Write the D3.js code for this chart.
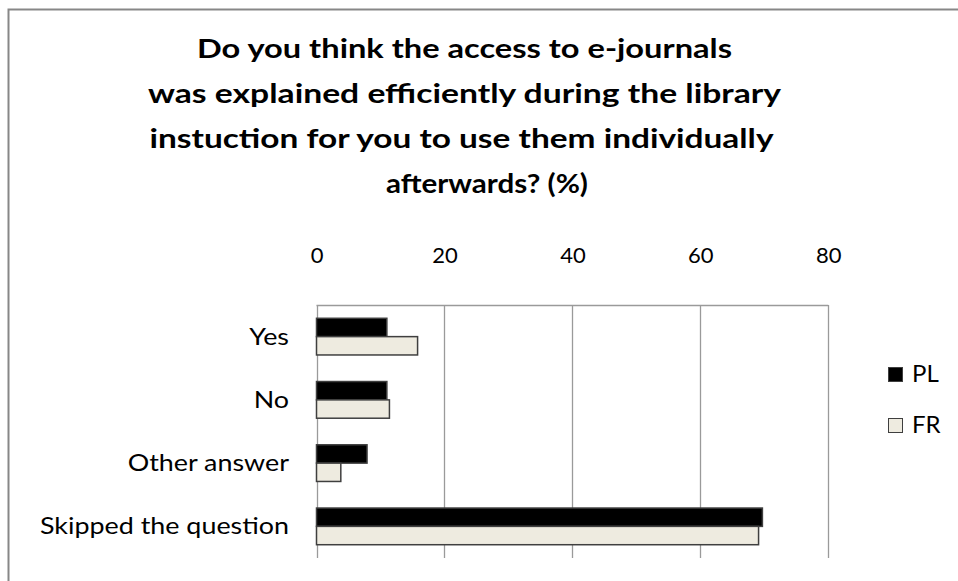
<!DOCTYPE html>
<html>
<head>
<meta charset="utf-8">
<script src="https://cdn.jsdelivr.net/npm/d3@7"></script>
<style>
  html, body { margin: 0; padding: 0; background: #fff; }
  svg { display: block; }
  text { font-family: Lato, "Open Sans", sans-serif; fill: #000; }
</style>
</head>
<body>
<svg id="chart" width="958" height="581"></svg>
<script>
// ---- data ----
const categories = ["Yes", "No", "Other answer", "Skipped the question"];
const seriesNames = ["PL", "FR"];
const valuesPL = [11.0, 11.0, 7.9, 69.7];
const valuesFR = [15.8, 11.4, 3.8, 69.1];
const xTicks = [0, 20, 40, 60, 80];
const titleLines = [
  "Do you think the access to e-journals",
  "was explained efficiently during the library",
  "instuction for you to use them individually",
  "afterwards? (%)"
];

const seriesColors = { PL: "#000000", FR: "#EEEBE0" };
const seriesValues = { PL: valuesPL, FR: valuesFR };

const svg = d3.select("#chart");

// outer chart border
svg.append("rect")
  .attr("x", 8.5).attr("y", 9.5)
  .attr("width", 1000).attr("height", 1000)
  .attr("fill", "none").attr("stroke", "#878787").attr("stroke-width", 2);

// title: each line centred and fitted to the reference line width
const titleCenters = [464.5, 464.5, 461.5, 487];
const titleWidths = [535, 633, 624, 202];
const titleBaselines = [58, 103, 148, 193];
const tg = svg.append("g");
tg.selectAll("text").data(titleLines).join("text")
  .attr("x", (d, i) => titleCenters[i]).attr("y", (d, i) => titleBaselines[i])
  .attr("text-anchor", "middle")
  .attr("font-size", 27).attr("font-weight", "bold")
  .attr("textLength", (d, i) => titleWidths[i])
  .attr("lengthAdjust", "spacingAndGlyphs")
  .text(d => d);

// plot area
const plot = { left: 316.5, right: 828.3, top: 305, bottom: 558 };

const x = d3.scaleLinear().domain([0, 80]).range([plot.left, plot.right]);
const y = d3.scaleBand().domain(categories).range([plot.top, plot.bottom])
  .paddingInner(0.42).paddingOuter(0.21);
const ySub = d3.scaleBand().domain(seriesNames).range([0, y.bandwidth()]).padding(0);

// gridlines
svg.append("g").selectAll("line").data(xTicks).join("line")
  .attr("x1", d => Math.round(x(d)) + 0.5).attr("x2", d => Math.round(x(d)) + 0.5)
  .attr("y1", plot.top).attr("y2", plot.bottom)
  .attr("stroke", "#9a9a9a").attr("stroke-width", 1.3);

// top axis line
svg.append("line")
  .attr("x1", plot.left).attr("x2", plot.right)
  .attr("y1", plot.top + 0.5).attr("y2", plot.top + 0.5)
  .attr("stroke", "#9a9a9a").attr("stroke-width", 1.3);

// axis labels (top)
const xAxis = d3.axisTop(x).tickValues(xTicks).tickSize(0).tickPadding(0).tickFormat(d3.format("d"));
const ax = svg.append("g").attr("transform", `translate(0, 263)`).call(xAxis);
ax.select(".domain").remove();
ax.selectAll("text").attr("font-size", 22).attr("font-family", "Lato, sans-serif").attr("fill", "#000").attr("dy", 0);

// category labels, scaled so the longest matches the reference width
const catText = svg.append("g").selectAll("text").data(categories).join("text")
  .attr("x", 289)
  .attr("y", d => y(d) + y.bandwidth() / 2 + 8)
  .attr("text-anchor", "end")
  .attr("font-size", 23)
  .text(d => d);
const longest = catText.filter(d => d === "Skipped the question").node().getComputedTextLength();
const k = 249 / longest;
catText.each(function() {
  const w = this.getComputedTextLength();
  d3.select(this).attr("textLength", w * k).attr("lengthAdjust", "spacingAndGlyphs");
});

// bars
const groups = svg.append("g").selectAll("g").data(categories).join("g")
  .attr("transform", d => `translate(0, ${y(d)})`);
groups.selectAll("rect")
  .data((d, i) => seriesNames.map(s => ({ s, v: seriesValues[s][i] })))
  .join("rect")
  .attr("x", x(0))
  .attr("y", d => ySub(d.s))
  .attr("width", d => x(d.v) - x(0))
  .attr("height", ySub.bandwidth())
  .attr("fill", d => seriesColors[d.s])
  .attr("stroke", "#3f3f3f").attr("stroke-width", 1.5);

// legend
const legendY = [367, 418];
const leg = svg.append("g");
seriesNames.forEach((s, i) => {
  leg.append("rect")
    .attr("x", 888.5).attr("y", legendY[i] + 0.5)
    .attr("width", 14).attr("height", 14)
    .attr("fill", seriesColors[s]).attr("stroke", "#3f3f3f").attr("stroke-width", 1);
  leg.append("text")
    .attr("x", 912).attr("y", legendY[i] + 15)
    .attr("font-size", 24)
    .text(s);
});
</script>
</body>
</html>
